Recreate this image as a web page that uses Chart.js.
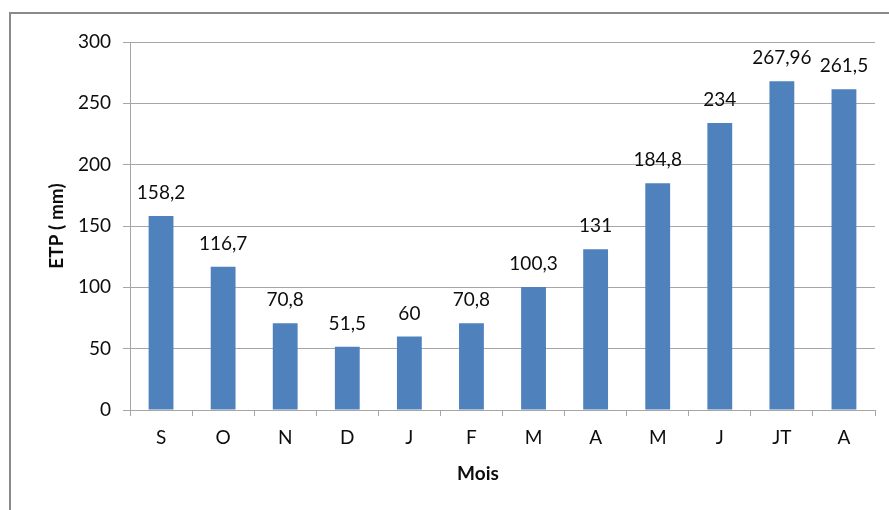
<!DOCTYPE html>
<html>
<head>
<meta charset="utf-8">
<script src="https://cdn.jsdelivr.net/npm/chart.js@4/dist/chart.umd.min.js"></script>
<style>
  html, body { margin: 0; padding: 0; background: #fff; }
  #wrap { width: 889px; height: 510px; position: relative; }
</style>
</head>
<body>
<div id="wrap"><canvas id="c" width="889" height="510"></canvas></div>
<script>
// Monthly ETP (mm), September to August
const months = ['S', 'O', 'N', 'D', 'J', 'F', 'M', 'A', 'M', 'J', 'JT', 'A'];
const etp = [158.2, 116.7, 70.8, 51.5, 60, 70.8, 100.3, 131, 184.8, 234, 267.96, 261.5];
const yTicks = [0, 50, 100, 150, 200, 250, 300];

const FONT = 'Lato, "Noto Sans", sans-serif';
const TEXT = '#0d0d0d';
const GRID = '#a6a6a6';

// Frame lines along the top and left edges of the chart box
const framePlugin = {
  id: 'frame',
  beforeDraw(chart) {
    const ctx = chart.ctx;
    ctx.save();
    ctx.strokeStyle = '#8a8a8a';
    ctx.lineWidth = 2;
    ctx.beginPath();
    ctx.moveTo(10, chart.height);
    ctx.lineTo(10, 13);
    ctx.lineTo(chart.width, 13);
    ctx.stroke();
    ctx.restore();
  }
};

// Value labels above each bar, decimal comma
const valueLabels = {
  id: 'valueLabels',
  afterDatasetsDraw(chart) {
    const ctx = chart.ctx;
    const meta = chart.getDatasetMeta(0);
    const data = chart.data.datasets[0].data;
    ctx.save();
    ctx.font = '19px ' + FONT;
    ctx.fillStyle = TEXT;
    ctx.textAlign = 'center';
    ctx.textBaseline = 'middle';
    meta.data.forEach((bar, i) => {
      ctx.fillText(String(data[i]).replace('.', ','), bar.x, bar.y - 23);
    });
    ctx.restore();
  }
};

// Axis titles
const axisTitles = {
  id: 'axisTitles',
  afterDraw(chart) {
    const ctx = chart.ctx;
    const area = chart.chartArea;
    ctx.save();
    ctx.font = 'bold 19px ' + FONT;
    ctx.fillStyle = TEXT;
    ctx.textAlign = 'center';
    ctx.textBaseline = 'middle';
    ctx.fillText('Mois', 478, 474);
    ctx.translate(57, (area.top + area.bottom) / 2);
    ctx.rotate(-Math.PI / 2);
    ctx.fillText('ETP ( mm)', 0, 0);
    ctx.restore();
  }
};

new Chart(document.getElementById('c'), {
  type: 'bar',
  data: {
    labels: months,
    datasets: [{
      data: etp,
      backgroundColor: '#4f81bd',
      borderWidth: 0,
      barPercentage: 0.4,
      categoryPercentage: 1
    }]
  },
  options: {
    responsive: false,
    animation: false,
    layout: { padding: { left: 0, right: 14, top: 42, bottom: 0 } },
    plugins: {
      legend: { display: false },
      tooltip: { enabled: false }
    },
    scales: {
      x: {
        afterFit(s) { s.height = 100; },
        grid: {
          drawOnChartArea: false,
          drawTicks: true,
          tickLength: 6,
          color: GRID
        },
        border: { color: GRID, width: 1 },
        ticks: {
          color: TEXT,
          font: { family: FONT, size: 19 },
          padding: 10,
          maxRotation: 0,
          autoSkip: false
        }
      },
      y: {
        min: 0,
        max: 300,
        afterFit(s) { s.width = 130; },
        afterBuildTicks(s) { s.ticks = yTicks.map(v => ({ value: v })); },
        grid: { color: GRID, tickLength: 7 },
        border: { color: GRID, width: 1 },
        ticks: {
          color: TEXT,
          font: { family: FONT, size: 19 },
          padding: 12
        }
      }
    }
  },
  plugins: [framePlugin, valueLabels, axisTitles]
});
</script>
</body>
</html>
